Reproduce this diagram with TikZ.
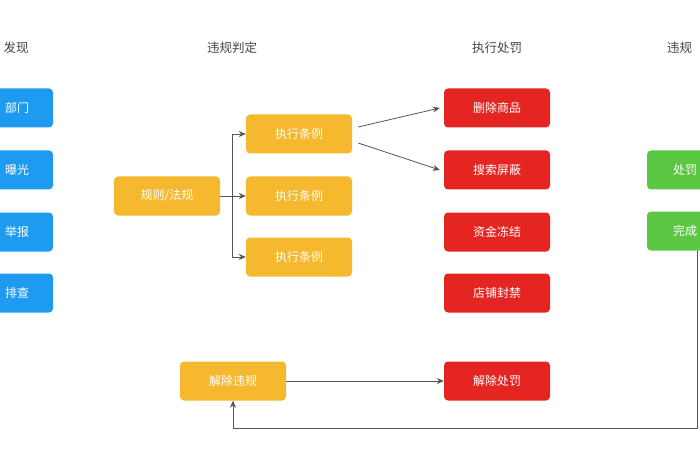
\documentclass[tikz,border=0pt]{standalone}
\usepackage{fontspec}
\setmainfont{Noto Sans CJK SC}
\usetikzlibrary{arrows.meta}
\definecolor{findblue}{HTML}{1E9BF0}
\definecolor{ruleorange}{HTML}{F5B82E}
\definecolor{punishred}{HTML}{E52521}
\definecolor{donegreen}{HTML}{5BC742}
\definecolor{headgray}{HTML}{444444}
\definecolor{linegray}{HTML}{555555}
\tikzset{
  box/.style={shape=rectangle, rounded corners=4pt, text=white, font=\fontsize{12}{14}\selectfont,
    minimum height=39pt, minimum width=106pt, inner sep=0pt},
  head/.style={text=headgray, font=\fontsize{12.5}{14}\selectfont},
  link/.style={draw=linegray, line width=0.8pt, -{Stealth[length=7pt,width=6pt]}}
}
\begin{document}
\begin{tikzpicture}[x=1pt, y=-1pt]
    \useasboundingbox (0,0) rectangle (700,470);
    \clip (0,0) rectangle (700,470);

    \node[head] (HFind) at (16,48) {发现};
    \node[head] (HJudge) at (232,48) {违规判定};
    \node[head] (HPunish) at (497,48) {执行处罚};
    \node[head, anchor=west, inner xsep=0pt] (HAppeal) at (667,48) {违规};

    \node[box, fill=findblue, minimum width=93pt] (Dept) at (6.5,108) {\hspace*{21pt}部门};
    \node[box, fill=findblue, minimum width=93pt] (Expose) at (6.5,170) {\hspace*{21pt}曝光};
    \node[box, fill=findblue, minimum width=93pt] (Report) at (6.5,232) {\hspace*{21pt}举报};
    \node[box, fill=findblue, minimum width=93pt] (Check) at (6.5,293) {\hspace*{21pt}排查};

    \node[box, fill=ruleorange] (Rule) at (167,196) {规则/法规};
    \node[box, fill=ruleorange] (ExecA) at (299,134) {执行条例};
    \node[box, fill=ruleorange] (ExecB) at (299,196) {执行条例};
    \node[box, fill=ruleorange] (ExecC) at (299,257) {执行条例};
    \node[box, fill=ruleorange] (Lift) at (233,381) {解除违规};

    \node[box, fill=punishred] (Delete) at (497,108) {删除商品};
    \node[box, fill=punishred] (Shield) at (497,170) {搜索屏蔽};
    \node[box, fill=punishred] (Freeze) at (497,232) {资金冻结};
    \node[box, fill=punishred] (Close) at (497,293) {店铺封禁};
    \node[box, fill=punishred] (Unpunish) at (497,381) {解除处罚};

    \node[box, fill=donegreen, minimum width=100pt] (Penalty) at (697,170) {处罚\hspace*{24pt}};
    \node[box, fill=donegreen, minimum width=100pt] (Done) at (697,231) {完成\hspace*{24pt}};

    \coordinate (Fork) at (232,196);
    \draw[draw=linegray, line width=0.8pt] (Rule) -- (Fork);
    \draw[link] (Fork) |- (ExecA);
    \draw[link] (Fork) -- (ExecB);
    \draw[link] (Fork) |- (ExecC);

    \draw[link] ([yshift=7pt]ExecA.east) ++(6,0) -- ([xshift=-4pt]Delete.west);
    \draw[link] ([yshift=-9pt]ExecA.east) ++(6,0) -- ([xshift=-4pt]Shield.west);
    \draw[link] (Lift) -- (Unpunish);

    \coordinate (Corner) at (697,428);
    \draw[link] (Done.south) -- (Corner) -| (Lift.south);

\end{tikzpicture}
\end{document}
